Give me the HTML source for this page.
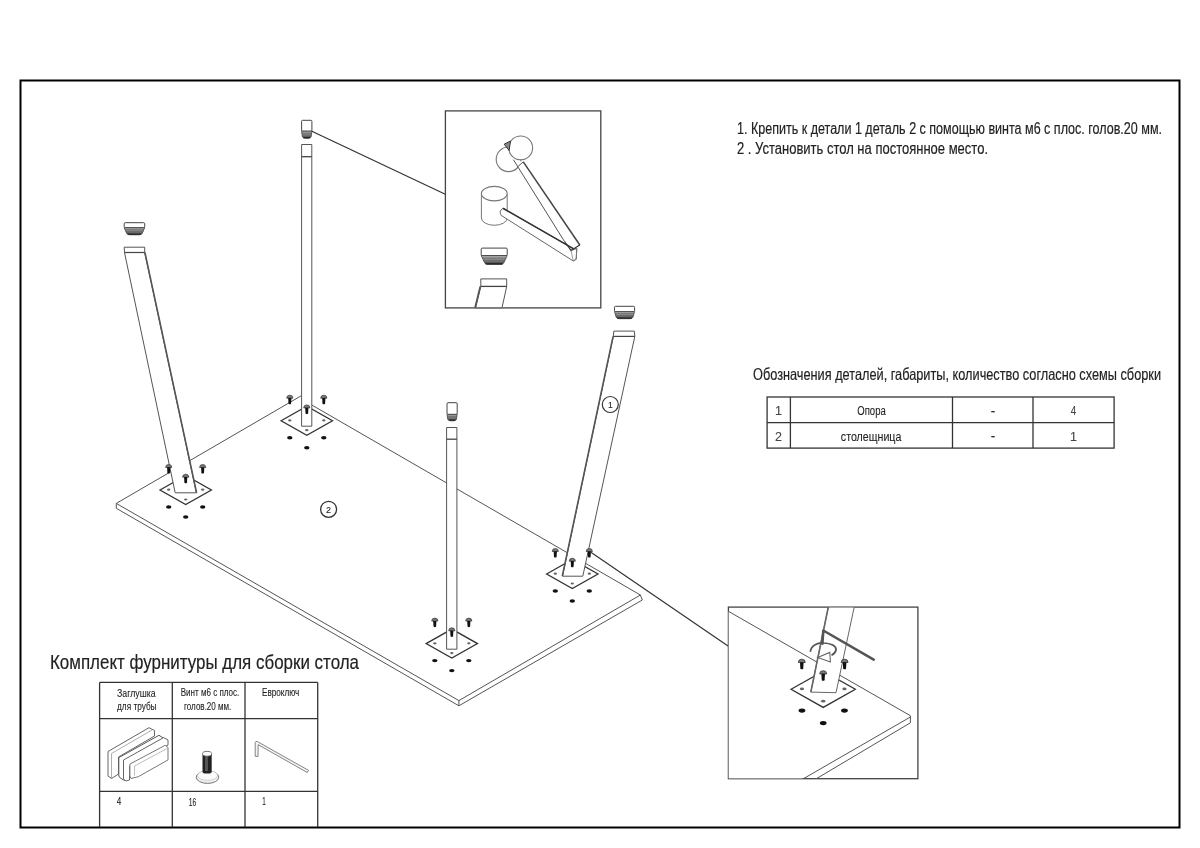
<!DOCTYPE html>
<html><head><meta charset="utf-8"><style>
html,body{margin:0;padding:0;background:#fff;}
svg{display:block;will-change:transform;}
text{font-family:"Liberation Sans",sans-serif;}
</style></head><body>
<svg width="1200" height="848" viewBox="0 0 1200 848">
<defs><linearGradient id="capg" x1="0" y1="0" x2="0" y2="1"><stop offset="0" stop-color="#aaa"/><stop offset="0.55" stop-color="#888"/><stop offset="1" stop-color="#333"/></linearGradient></defs>
<rect x="0" y="0" width="1200" height="848" fill="#fff"/>

<polygon points="116.3,503.4 306.5,401.5 311.8,405.0 640.4,595.0 458.9,700.6" fill="#fff" stroke="none" stroke-width="1" />
<line x1="116.3" y1="503.4" x2="301.5" y2="395.6" stroke="#555" stroke-width="1"/>
<line x1="311.8" y1="405.0" x2="640.4" y2="595.0" stroke="#555" stroke-width="1"/>
<line x1="640.4" y1="595.0" x2="458.9" y2="700.6" stroke="#555" stroke-width="1"/>
<line x1="458.9" y1="700.6" x2="116.3" y2="503.4" stroke="#555" stroke-width="1"/>
<line x1="642.3" y1="600.0" x2="458.9" y2="705.8" stroke="#555" stroke-width="1"/>
<line x1="458.9" y1="705.8" x2="116.3" y2="508.3" stroke="#555" stroke-width="1"/>
<line x1="116.3" y1="503.4" x2="116.3" y2="508.3" stroke="#555" stroke-width="1"/>
<line x1="458.9" y1="700.6" x2="458.9" y2="705.8" stroke="#555" stroke-width="1"/>
<line x1="640.4" y1="595.0" x2="642.3" y2="600.0" stroke="#555" stroke-width="1"/>
<polygon points="160.0,490.0 185.7,475.5 211.39999999999998,490.0 185.7,504.5" fill="#fff" stroke="#333" stroke-width="1.3" />
<ellipse cx="168.7" cy="489.7" rx="1.7" ry="1.1" fill="#666"/>
<ellipse cx="202.7" cy="489.7" rx="1.7" ry="1.1" fill="#666"/>
<ellipse cx="185.7" cy="499.5" rx="1.7" ry="1.1" fill="#666"/>
<ellipse cx="168.7" cy="507.0" rx="2.7" ry="1.7" fill="#111"/>
<ellipse cx="202.7" cy="507.0" rx="2.7" ry="1.7" fill="#111"/>
<ellipse cx="185.7" cy="517.0" rx="2.7" ry="1.7" fill="#111"/>
<polygon points="281.1,420.7 306.8,406.2 332.5,420.7 306.8,435.2" fill="#fff" stroke="#333" stroke-width="1.3" />
<ellipse cx="289.8" cy="420.4" rx="1.7" ry="1.1" fill="#666"/>
<ellipse cx="323.8" cy="420.4" rx="1.7" ry="1.1" fill="#666"/>
<ellipse cx="306.8" cy="430.2" rx="1.7" ry="1.1" fill="#666"/>
<ellipse cx="289.8" cy="437.7" rx="2.7" ry="1.7" fill="#111"/>
<ellipse cx="323.8" cy="437.7" rx="2.7" ry="1.7" fill="#111"/>
<ellipse cx="306.8" cy="447.7" rx="2.7" ry="1.7" fill="#111"/>
<polygon points="426.1,643.6 451.8,629.1 477.5,643.6 451.8,658.1" fill="#fff" stroke="#333" stroke-width="1.3" />
<ellipse cx="434.8" cy="643.3000000000001" rx="1.7" ry="1.1" fill="#666"/>
<ellipse cx="468.8" cy="643.3000000000001" rx="1.7" ry="1.1" fill="#666"/>
<ellipse cx="451.8" cy="653.1" rx="1.7" ry="1.1" fill="#666"/>
<ellipse cx="434.8" cy="660.6" rx="2.7" ry="1.7" fill="#111"/>
<ellipse cx="468.8" cy="660.6" rx="2.7" ry="1.7" fill="#111"/>
<ellipse cx="451.8" cy="670.6" rx="2.7" ry="1.7" fill="#111"/>
<polygon points="546.5999999999999,574.0 572.3,559.5 598.0,574.0 572.3,588.5" fill="#fff" stroke="#333" stroke-width="1.3" />
<ellipse cx="555.3" cy="573.7" rx="1.7" ry="1.1" fill="#666"/>
<ellipse cx="589.3" cy="573.7" rx="1.7" ry="1.1" fill="#666"/>
<ellipse cx="572.3" cy="583.5" rx="1.7" ry="1.1" fill="#666"/>
<ellipse cx="555.3" cy="591.0" rx="2.7" ry="1.7" fill="#111"/>
<ellipse cx="589.3" cy="591.0" rx="2.7" ry="1.7" fill="#111"/>
<ellipse cx="572.3" cy="601.0" rx="2.7" ry="1.7" fill="#111"/>
<polygon points="301.6,144.5 311.8,144.5 311.8,426.2 301.6,426.2" fill="#fff" stroke="#555" stroke-width="1" />
<line x1="301.6" y1="156.7" x2="311.8" y2="156.7" stroke="#444" stroke-width="1.3"/>
<rect x="301.6" y="120.3" width="10.299999999999955" height="10.899999999999991" rx="1" fill="#fff" stroke="#444" stroke-width="1"/>
<path d="M301.6 131.2 L311.9 131.2 L311.09999999999997 136.8 Q310.09999999999997 138.3 308.09999999999997 138.3 L305.40000000000003 138.3 Q303.40000000000003 138.3 302.40000000000003 136.8 Z" fill="url(#capg)" stroke="#444" stroke-width="0.8"/>
<path d="M301.84000000000003 133.32999999999998 L311.65999999999997 133.32999999999998" stroke="#555" stroke-width="0.6"/>
<path d="M302.04 135.105 L311.46 135.105" stroke="#555" stroke-width="0.6"/>
<path d="M302.24 136.88 L311.26 136.88" stroke="#555" stroke-width="0.6"/>
<path d="M303.40000000000003 137.70000000000002 L310.09999999999997 137.70000000000002" stroke="#222" stroke-width="1.1"/>
<polygon points="446.6,427.5 456.9,427.5 456.9,649.2 446.6,649.2" fill="#fff" stroke="#555" stroke-width="1" />
<line x1="446.6" y1="439.2" x2="456.9" y2="439.2" stroke="#444" stroke-width="1.3"/>
<rect x="447.0" y="402.7" width="10.199999999999989" height="11.699999999999989" rx="1" fill="#fff" stroke="#444" stroke-width="1"/>
<path d="M447.0 414.4 L457.2 414.4 L456.4 419.3 Q455.4 420.8 453.4 420.8 L450.8 420.8 Q448.8 420.8 447.8 419.3 Z" fill="url(#capg)" stroke="#444" stroke-width="0.8"/>
<path d="M447.24 416.32 L456.96 416.32" stroke="#555" stroke-width="0.6"/>
<path d="M447.44 417.92 L456.76 417.92" stroke="#555" stroke-width="0.6"/>
<path d="M447.64 419.52 L456.56 419.52" stroke="#555" stroke-width="0.6"/>
<path d="M448.8 420.2 L455.4 420.2" stroke="#222" stroke-width="1.1"/>
<polygon points="124.2,247.2 144.7,247.2 144.7,252.5 196.4,492.8 175.2,492.8 124.5,252.5" fill="#fff" stroke="#555" stroke-width="1" />
<line x1="124.5" y1="252.5" x2="144.7" y2="252.5" stroke="#444" stroke-width="1.2"/>
<line x1="144.9" y1="252.5" x2="196.6" y2="492.8" stroke="#555" stroke-width="1.6"/>
<rect x="124.2" y="222.7" width="20.499999999999986" height="5.0" rx="1" fill="#fff" stroke="#444" stroke-width="1"/>
<path d="M124.2 227.7 L144.7 227.7 L142.2 233.3 Q141.2 234.8 139.2 234.8 L129.7 234.8 Q127.7 234.8 126.7 233.3 Z" fill="url(#capg)" stroke="#444" stroke-width="0.8"/>
<path d="M124.95 229.82999999999998 L143.95 229.82999999999998" stroke="#555" stroke-width="0.6"/>
<path d="M125.575 231.605 L143.325 231.605" stroke="#555" stroke-width="0.6"/>
<path d="M126.2 233.38 L142.7 233.38" stroke="#555" stroke-width="0.6"/>
<path d="M127.7 234.20000000000002 L141.2 234.20000000000002" stroke="#222" stroke-width="1.1"/>
<polygon points="613.8,331.1 634.3,331.1 634.8,336.4 582.8,576.2 562.5,576.2 613.3,336.4" fill="#fff" stroke="#555" stroke-width="1" />
<line x1="613.3" y1="336.4" x2="634.8" y2="336.4" stroke="#444" stroke-width="1.2"/>
<line x1="613.1" y1="336.4" x2="562.3" y2="576.2" stroke="#555" stroke-width="1.6"/>
<rect x="614.5" y="306.3" width="20.100000000000023" height="5.300000000000011" rx="1" fill="#fff" stroke="#444" stroke-width="1"/>
<path d="M614.5 311.6 L634.6 311.6 L632.9 317.2 Q631.9 318.7 629.9 318.7 L619.2 318.7 Q617.2 318.7 616.2 317.2 Z" fill="url(#capg)" stroke="#444" stroke-width="0.8"/>
<path d="M615.01 313.73 L634.09 313.73" stroke="#555" stroke-width="0.6"/>
<path d="M615.435 315.505 L633.6650000000001 315.505" stroke="#555" stroke-width="0.6"/>
<path d="M615.86 317.28 L633.24 317.28" stroke="#555" stroke-width="0.6"/>
<path d="M617.2 318.09999999999997 L631.9 318.09999999999997" stroke="#222" stroke-width="1.1"/>
<path d="M165.6 467.50000000000006 Q165.6 464.50000000000006 168.7 464.50000000000006 Q171.79999999999998 464.50000000000006 171.79999999999998 467.50000000000006 Z" fill="#7a7a7a" stroke="#333" stroke-width="0.7"/>
<path d="M167.1 467.3 L170.29999999999998 467.3 L170.0 473.00000000000006 Q168.7 474.20000000000005 167.39999999999998 473.00000000000006 Z" fill="#111"/>
<path d="M199.6 467.50000000000006 Q199.6 464.50000000000006 202.7 464.50000000000006 Q205.79999999999998 464.50000000000006 205.79999999999998 467.50000000000006 Z" fill="#7a7a7a" stroke="#333" stroke-width="0.7"/>
<path d="M201.1 467.3 L204.29999999999998 467.3 L204.0 473.00000000000006 Q202.7 474.20000000000005 201.39999999999998 473.00000000000006 Z" fill="#111"/>
<path d="M182.6 477.20000000000005 Q182.6 474.20000000000005 185.7 474.20000000000005 Q188.79999999999998 474.20000000000005 188.79999999999998 477.20000000000005 Z" fill="#7a7a7a" stroke="#333" stroke-width="0.7"/>
<path d="M184.1 477.0 L187.29999999999998 477.0 L187.0 482.70000000000005 Q185.7 483.90000000000003 184.39999999999998 482.70000000000005 Z" fill="#111"/>
<path d="M286.7 398.20000000000005 Q286.7 395.20000000000005 289.8 395.20000000000005 Q292.90000000000003 395.20000000000005 292.90000000000003 398.20000000000005 Z" fill="#7a7a7a" stroke="#333" stroke-width="0.7"/>
<path d="M288.2 398.0 L291.40000000000003 398.0 L291.1 403.70000000000005 Q289.8 404.90000000000003 288.5 403.70000000000005 Z" fill="#111"/>
<path d="M320.7 398.20000000000005 Q320.7 395.20000000000005 323.8 395.20000000000005 Q326.90000000000003 395.20000000000005 326.90000000000003 398.20000000000005 Z" fill="#7a7a7a" stroke="#333" stroke-width="0.7"/>
<path d="M322.2 398.0 L325.40000000000003 398.0 L325.1 403.70000000000005 Q323.8 404.90000000000003 322.5 403.70000000000005 Z" fill="#111"/>
<path d="M303.7 407.90000000000003 Q303.7 404.90000000000003 306.8 404.90000000000003 Q309.90000000000003 404.90000000000003 309.90000000000003 407.90000000000003 Z" fill="#7a7a7a" stroke="#333" stroke-width="0.7"/>
<path d="M305.2 407.7 L308.40000000000003 407.7 L308.1 413.40000000000003 Q306.8 414.6 305.5 413.40000000000003 Z" fill="#111"/>
<path d="M431.7 621.1 Q431.7 618.1 434.8 618.1 Q437.90000000000003 618.1 437.90000000000003 621.1 Z" fill="#7a7a7a" stroke="#333" stroke-width="0.7"/>
<path d="M433.2 620.9 L436.40000000000003 620.9 L436.1 626.6 Q434.8 627.8 433.5 626.6 Z" fill="#111"/>
<path d="M465.7 621.1 Q465.7 618.1 468.8 618.1 Q471.90000000000003 618.1 471.90000000000003 621.1 Z" fill="#7a7a7a" stroke="#333" stroke-width="0.7"/>
<path d="M467.2 620.9 L470.40000000000003 620.9 L470.1 626.6 Q468.8 627.8 467.5 626.6 Z" fill="#111"/>
<path d="M448.7 630.8000000000001 Q448.7 627.8000000000001 451.8 627.8000000000001 Q454.90000000000003 627.8000000000001 454.90000000000003 630.8000000000001 Z" fill="#7a7a7a" stroke="#333" stroke-width="0.7"/>
<path d="M450.2 630.6 L453.40000000000003 630.6 L453.1 636.3000000000001 Q451.8 637.5 450.5 636.3000000000001 Z" fill="#111"/>
<path d="M552.1999999999999 551.5 Q552.1999999999999 548.5 555.3 548.5 Q558.4 548.5 558.4 551.5 Z" fill="#7a7a7a" stroke="#333" stroke-width="0.7"/>
<path d="M553.6999999999999 551.3 L556.9 551.3 L556.5999999999999 557.0 Q555.3 558.1999999999999 554.0 557.0 Z" fill="#111"/>
<path d="M586.1999999999999 551.5 Q586.1999999999999 548.5 589.3 548.5 Q592.4 548.5 592.4 551.5 Z" fill="#7a7a7a" stroke="#333" stroke-width="0.7"/>
<path d="M587.6999999999999 551.3 L590.9 551.3 L590.5999999999999 557.0 Q589.3 558.1999999999999 588.0 557.0 Z" fill="#111"/>
<path d="M569.1999999999999 561.2 Q569.1999999999999 558.2 572.3 558.2 Q575.4 558.2 575.4 561.2 Z" fill="#7a7a7a" stroke="#333" stroke-width="0.7"/>
<path d="M570.6999999999999 561.0 L573.9 561.0 L573.5999999999999 566.7 Q572.3 567.9 571.0 566.7 Z" fill="#111"/>
<circle cx="610.3" cy="404.5" r="8" fill="#fff" stroke="#333" stroke-width="1.2"/>
<text x="610.3" y="407.8" font-size="8.7" text-anchor="middle" fill="#222" stroke="#222" stroke-width="0.1">1</text>
<circle cx="328.6" cy="509.3" r="8" fill="#fff" stroke="#333" stroke-width="1.3"/>
<text x="328.6" y="512.8" font-size="9" text-anchor="middle" fill="#222" stroke="#222" stroke-width="0.1">2</text>
<line x1="311.9" y1="131.2" x2="445.3" y2="194.3" stroke="#333" stroke-width="1.2"/>
<line x1="589.4" y1="551.3" x2="728.4" y2="646.3" stroke="#333" stroke-width="1.2"/>
<rect x="20.5" y="80.5" width="1159" height="747" fill="none" stroke="#000" stroke-width="2"/>
<rect x="445.4" y="110.9" width="155.4" height="197" fill="#fff" stroke="#444" stroke-width="1.3"/>
<rect x="728.4" y="607.1" width="189.5" height="171.6" fill="#fff" stroke="#444" stroke-width="1.3"/>
<circle cx="508.5" cy="159.3" r="12.3" fill="#fff" stroke="#777" stroke-width="1.1"/>
<circle cx="520.7" cy="147.9" r="11.9" fill="#fff" stroke="#777" stroke-width="1.1"/>
<polygon points="504.2,144.2 510.5,141 509.1,150.5" fill="#888" stroke="#333" stroke-width="1"/>
<polygon points="513.4,159.7 523.3,161.8 579.8,245 573.3,248.6 564.5,241.5" fill="#fff" stroke="none" stroke-width="1" />
<line x1="513.4" y1="159.7" x2="564.5" y2="241.5" stroke="#555" stroke-width="1"/>
<line x1="523.3" y1="161.8" x2="579.8" y2="245" stroke="#444" stroke-width="1.5"/>
<line x1="517.6" y1="166.8" x2="523.3" y2="161.8" stroke="#555" stroke-width="1"/>
<path d="M481.4 193.6 L481.4 218 A12.9 7.25 0 0 0 507.2 218 L507.2 193.6" fill="#fff" stroke="#777" stroke-width="1"/>
<ellipse cx="494.3" cy="193.6" rx="12.9" ry="7.25" fill="#fff" stroke="#777" stroke-width="1.1"/>
<path d="M503 208.3 L573.3 248.6 L576.8 248.6 L576.2 259.2 L573.3 261 L501.2 215.4 Q498.5 211 503 208.3 Z" fill="#fff" stroke="#666" stroke-width="1"/>
<line x1="503" y1="208.3" x2="573.3" y2="248.6" stroke="#333" stroke-width="1.6"/>
<polyline points="571,250.4 576.8,248.6 576.2,259.2 573.3,261" fill="none" stroke="#777" stroke-width="1" />
<line x1="571" y1="250.4" x2="573.3" y2="261" stroke="#888" stroke-width="0.8"/>
<polyline points="564.5,241.5 571,250.4 579.8,245" fill="none" stroke="#333" stroke-width="1.2" />
<rect x="481.2" y="248.1" width="26.0" height="7.400000000000006" rx="1" fill="#fff" stroke="#444" stroke-width="1"/>
<path d="M481.2 255.5 L507.2 255.5 L503.7 262.9 Q502.7 264.4 500.7 264.4 L487.7 264.4 Q485.7 264.4 484.7 262.9 Z" fill="url(#capg)" stroke="#444" stroke-width="0.8"/>
<path d="M482.25 258.17 L506.15 258.17" stroke="#555" stroke-width="0.6"/>
<path d="M483.125 260.395 L505.275 260.395" stroke="#555" stroke-width="0.6"/>
<path d="M484.0 262.62 L504.4 262.62" stroke="#555" stroke-width="0.6"/>
<path d="M485.7 263.79999999999995 L502.7 263.79999999999995" stroke="#222" stroke-width="1.1"/>
<polygon points="480.8,278.9 506.7,278.9 506.7,286.4 502,307.8 475.6,307.8 480.8,286.4" fill="#fff" stroke="#555" stroke-width="1" />
<line x1="480.8" y1="286.4" x2="506.7" y2="286.4" stroke="#444" stroke-width="1.3"/>
<line x1="480.3" y1="286.4" x2="475.1" y2="307.8" stroke="#555" stroke-width="1.8"/>
<clipPath id="cbr"><rect x="728.4" y="607.1" width="189.5" height="171.6"/></clipPath>
<g clip-path="url(#cbr)">
<polygon points="728.4,611.3 910.4,715.7 802,778.6 728.4,778.6" fill="#fff" stroke="none" stroke-width="1" />
<line x1="728.4" y1="611.3" x2="910.4" y2="715.7" stroke="#555" stroke-width="1"/>
<line x1="910.4" y1="715.7" x2="910.4" y2="722.8" stroke="#555" stroke-width="1"/>
<line x1="910.4" y1="717" x2="802" y2="779.5" stroke="#555" stroke-width="1"/>
<line x1="910.4" y1="722.8" x2="815" y2="779.5" stroke="#555" stroke-width="1"/>
<polygon points="791.075,689.3 823.2,671.175 855.325,689.3 823.2,707.425" fill="#fff" stroke="#333" stroke-width="1.3" />
<ellipse cx="801.95" cy="688.925" rx="2.125" ry="1.375" fill="#666"/>
<ellipse cx="844.45" cy="688.925" rx="2.125" ry="1.375" fill="#666"/>
<ellipse cx="823.2" cy="701.175" rx="2.125" ry="1.375" fill="#666"/>
<ellipse cx="801.95" cy="710.55" rx="3.375" ry="2.125" fill="#111"/>
<ellipse cx="844.45" cy="710.55" rx="3.375" ry="2.125" fill="#111"/>
<ellipse cx="823.2" cy="723.05" rx="3.375" ry="2.125" fill="#111"/>
<polygon points="828.3,607.1 854.2,607.1 836,692.7 810.8,692.1" fill="#fff" stroke="#666" stroke-width="1" />
<line x1="828.3" y1="607.1" x2="810.8" y2="692.1" stroke="#666" stroke-width="1.6"/>
<path d="M798.3280000000001 662.5039999999999 Q798.3280000000001 659.1439999999999 801.8000000000001 659.1439999999999 Q805.272 659.1439999999999 805.272 662.5039999999999 Z" fill="#7a7a7a" stroke="#333" stroke-width="0.784"/>
<path d="M800.008 662.28 L803.5920000000001 662.28 L803.2560000000001 668.664 Q801.8000000000001 670.0079999999999 800.344 668.664 Z" fill="#111"/>
<path d="M841.128 662.5039999999999 Q841.128 659.1439999999999 844.6 659.1439999999999 Q848.072 659.1439999999999 848.072 662.5039999999999 Z" fill="#7a7a7a" stroke="#333" stroke-width="0.784"/>
<path d="M842.808 662.28 L846.392 662.28 L846.056 668.664 Q844.6 670.0079999999999 843.144 668.664 Z" fill="#111"/>
<path d="M819.7280000000001 674.0039999999999 Q819.7280000000001 670.6439999999999 823.2 670.6439999999999 Q826.672 670.6439999999999 826.672 674.0039999999999 Z" fill="#7a7a7a" stroke="#333" stroke-width="0.784"/>
<path d="M821.408 673.78 L824.9920000000001 673.78 L824.6560000000001 680.164 Q823.2 681.5079999999999 821.744 680.164 Z" fill="#111"/>
<polyline points="822.4,643.6 823.3,630.5 873.7,659.7" fill="none" stroke="#555" stroke-width="2.6" stroke-linecap="round" stroke-linejoin="round"/>
<path d="M810.3 651.8 C811 645 818 642.5 823.6 643 C831 643.3 836.5 646 836 650 C835.6 652.5 834 654 831.5 655.2" fill="none" stroke="#555" stroke-width="1.7"/>
<polygon points="817.7,657.5 829.8,652.4 830.4,662" fill="#fff" stroke="#666" stroke-width="1.1"/>
</g>
<polygon points="108,751.5 149,727.7 154.5,730.5 154.5,736 118.5,757 118.5,774 111.5,778.5 108,776" fill="#fff" stroke="#666" stroke-width="1" />
<polyline points="111.5,778 111.5,753.5 152,730" fill="none" stroke="#999" stroke-width="0.8" />
<polygon points="118.8,757.6 159,735.3 164,738.5 164,742 124.5,764 124.5,780.5 120.3,778 118.8,776" fill="#fff" stroke="#555" stroke-width="1" />
<polygon points="123.5,760 163.6,737.6 168,740 168,745 129.5,766 129.5,780 126,781 123.5,779" fill="#fff" stroke="#666" stroke-width="1" />
<polygon points="129.9,764.1 165.2,745.3 168,747.5 168,759.9 138.3,776.7 131,778.5 129.9,776" fill="#fff" stroke="#777" stroke-width="1" />
<polyline points="134.5,775.5 134.5,766 167,748.5" fill="none" stroke="#aaa" stroke-width="0.8" />
<ellipse cx="207.5" cy="777.2" rx="11.3" ry="6.2" fill="#eee" stroke="#777" stroke-width="1"/>
<ellipse cx="207.5" cy="775.5" rx="10" ry="4.8" fill="#fafafa" stroke="#bbb" stroke-width="0.6"/>
<rect x="202.5" y="753.5" width="9.2" height="20" rx="2" fill="#222"/>
<rect x="205" y="756" width="3" height="15" fill="#555"/>
<ellipse cx="207.1" cy="753.8" rx="4.6" ry="2.4" fill="#fff" stroke="#555" stroke-width="0.8"/>
<path d="M255.2 756.2 L255.2 742.5 Q255.5 741 257.2 741.5 L308.5 770.3 L307.3 772.5 L258.2 744.7 L258 756.5 Z" fill="#f4f4f4" stroke="#777" stroke-width="0.9"/>
<text x="737" y="133.75" font-size="16" text-anchor="start" fill="#222" stroke="#222" stroke-width="0.18" textLength="425" lengthAdjust="spacingAndGlyphs">1. Крепить к детали 1 деталь 2 с помощью винта м6 с плос. голов.20 мм.</text>
<text x="737" y="154.2" font-size="16" text-anchor="start" fill="#222" stroke="#222" stroke-width="0.18" textLength="251" lengthAdjust="spacingAndGlyphs">2 . Установить стол на постоянное место.</text>
<text x="753" y="380" font-size="16.5" text-anchor="start" fill="#222" stroke="#222" stroke-width="0.18" textLength="408" lengthAdjust="spacingAndGlyphs">Обозначения деталей, габариты, количество согласно схемы сборки</text>
<text x="50" y="668.5" font-size="21" text-anchor="start" fill="#222" stroke="#222" stroke-width="0.18" textLength="309" lengthAdjust="spacingAndGlyphs">Комплект фурнитуры для сборки стола</text>
<g stroke="#333" stroke-width="1.3" fill="none">
<rect x="767.1" y="397" width="347" height="51.1"/>
<line x1="767.1" y1="422.6" x2="1114.1" y2="422.6" stroke="#333" stroke-width="1.3"/>
<line x1="790.4" y1="397" x2="790.4" y2="448.1" stroke="#333" stroke-width="1.3"/>
<line x1="952.5" y1="397" x2="952.5" y2="448.1" stroke="#333" stroke-width="1.3"/>
<line x1="1033" y1="397" x2="1033" y2="448.1" stroke="#333" stroke-width="1.3"/>
</g>
<text x="778.5" y="415.2" font-size="12.5" text-anchor="middle" fill="#444" stroke="#444" stroke-width="0.1">1</text>
<text x="778.5" y="440.8" font-size="12.5" text-anchor="middle" fill="#444" stroke="#444" stroke-width="0.1">2</text>
<text x="871.5" y="414.8" font-size="12.5" text-anchor="middle" fill="#222" stroke="#222" stroke-width="0.1" textLength="28.5" lengthAdjust="spacingAndGlyphs">Опора</text>
<text x="871.1" y="440.5" font-size="12.5" text-anchor="middle" fill="#222" stroke="#222" stroke-width="0.1" textLength="60.5" lengthAdjust="spacingAndGlyphs">столещница</text>
<text x="993" y="414.5" font-size="12" text-anchor="middle" fill="#222" stroke="#222" stroke-width="0.1" textLength="4.5" lengthAdjust="spacingAndGlyphs">-</text>
<text x="993" y="440.3" font-size="12" text-anchor="middle" fill="#222" stroke="#222" stroke-width="0.1" textLength="4.5" lengthAdjust="spacingAndGlyphs">-</text>
<text x="1073.6" y="415.2" font-size="12.5" text-anchor="middle" fill="#444" stroke="#444" stroke-width="0.1" textLength="5.5" lengthAdjust="spacingAndGlyphs">4</text>
<text x="1073.6" y="440.8" font-size="12.5" text-anchor="middle" fill="#444" stroke="#444" stroke-width="0.1">1</text>
<g stroke="#333" stroke-width="1.3" fill="none">
<line x1="99.6" y1="682.4" x2="317.7" y2="682.4" stroke="#333" stroke-width="1.3"/>
<line x1="99.6" y1="718.6" x2="317.7" y2="718.6" stroke="#333" stroke-width="1.3"/>
<line x1="99.6" y1="791.4" x2="317.7" y2="791.4" stroke="#333" stroke-width="1.3"/>
<line x1="99.6" y1="682.4" x2="99.6" y2="827" stroke="#333" stroke-width="1.3"/>
<line x1="172.3" y1="682.4" x2="172.3" y2="827" stroke="#333" stroke-width="1.3"/>
<line x1="245.0" y1="682.4" x2="245.0" y2="827" stroke="#333" stroke-width="1.3"/>
<line x1="317.7" y1="682.4" x2="317.7" y2="827" stroke="#333" stroke-width="1.3"/>
</g>
<text x="136.3" y="696.5" font-size="11.5" text-anchor="middle" fill="#222" stroke="#222" stroke-width="0.1" textLength="38.5" lengthAdjust="spacingAndGlyphs">Заглушка</text>
<text x="136.8" y="710" font-size="11.5" text-anchor="middle" fill="#222" stroke="#222" stroke-width="0.1" textLength="39.5" lengthAdjust="spacingAndGlyphs">для трубы</text>
<text x="210" y="696" font-size="11" text-anchor="middle" fill="#222" stroke="#222" stroke-width="0.1" textLength="58.6" lengthAdjust="spacingAndGlyphs">Винт м6 с плос.</text>
<text x="207.7" y="710.3" font-size="11" text-anchor="middle" fill="#222" stroke="#222" stroke-width="0.1" textLength="47.3" lengthAdjust="spacingAndGlyphs">голов.20 мм.</text>
<text x="280.7" y="696" font-size="11" text-anchor="middle" fill="#222" stroke="#222" stroke-width="0.1" textLength="37.3" lengthAdjust="spacingAndGlyphs">Евроключ</text>
<text x="119" y="804.8" font-size="10.5" text-anchor="middle" fill="#222" stroke="#222" stroke-width="0.1" textLength="4.5" lengthAdjust="spacingAndGlyphs">4</text>
<text x="192.5" y="805.5" font-size="10.5" text-anchor="middle" fill="#222" stroke="#222" stroke-width="0.1" textLength="7.5" lengthAdjust="spacingAndGlyphs">16</text>
<text x="264" y="805" font-size="10.5" text-anchor="middle" fill="#222" stroke="#222" stroke-width="0.1" textLength="3.5" lengthAdjust="spacingAndGlyphs">1</text>
</svg></body></html>
